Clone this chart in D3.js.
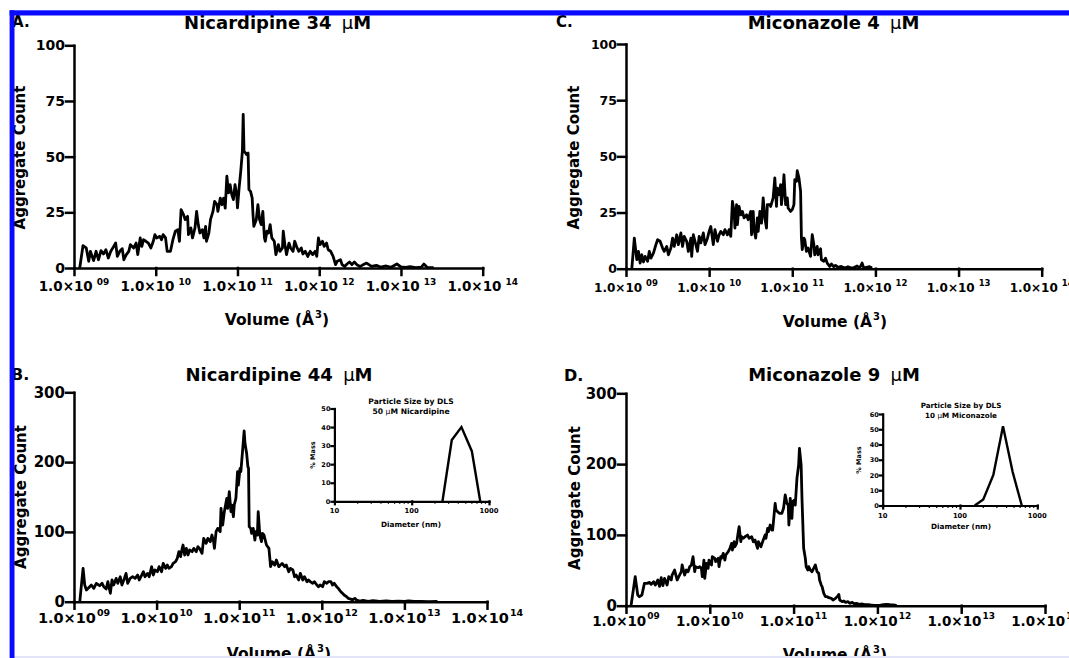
<!DOCTYPE html>
<html>
<head>
<meta charset="utf-8">
<script src="https://cdn.jsdelivr.net/npm/d3@7"></script>
<style>
	html, body { margin: 0; padding: 0; background: #fff; }
	svg { display: block; }
	text { font-family: "DejaVu Sans", "Liberation Sans", Arial, sans-serif; font-weight: bold; fill: #000; }
</style>
</head>
<body>
<svg id="chart" width="1069" height="658"></svg>
<script>

// ---- data (log10 of volume in A^3, aggregate count) ----

const decadeExps = [9, 10, 11, 12, 13, 14];
const yTicksTop = [0, 25, 50, 75, 100];
const yTicksBottom = [0, 100, 200, 300];

// A. Nicardipine 34 uM
const nic34Log = [
	9.07,9.11,9.15,9.18,9.20,9.24,9.27,9.30,9.33,9.36,
	9.39,9.42,9.45,9.48,9.51,9.53,9.56,9.59,9.61,9.64,
	9.67,9.69,9.73,9.76,9.78,9.81,9.83,9.85,9.88,9.91,
	9.94,9.97,9.99,10.01,10.05,10.07,10.09,10.12,10.14,10.18,
	10.21,10.24,10.27,10.29,10.31,10.34,10.36,10.39,10.40,10.43,
	10.45,10.48,10.50,10.52,10.54,10.57,10.59,10.61,10.62,10.65,
	10.67,10.70,10.72,10.75,10.76,10.79,10.81,10.83,10.85,10.87,
	10.89,10.91,10.93,10.95,10.97,10.99,11.00,11.02,11.04,11.06,
	11.07,11.08,11.10,11.11,11.13,11.14,11.16,11.18,11.19,11.20,
	11.23,11.25,11.27,11.29,11.31,11.33,11.34,11.36,11.38,11.40,
	11.42,11.45,11.47,11.50,11.52,11.55,11.56,11.58,11.60,11.63,
	11.65,11.68,11.70,11.73,11.75,11.78,11.80,11.83,11.86,11.89,
	11.92,11.95,11.97,11.99,12.01,12.04,12.06,12.09,12.11,12.14,
	12.17,12.20,12.22,12.26,12.28,12.31,12.34,12.37,12.40,12.43,
	12.46,12.50,12.53,12.58,12.64,12.70,12.75,12.82,12.88,12.95,
	13.00,13.06,13.11,13.18,13.25,13.28,13.32,13.40
];
const nic34Count = [
	0,10,9,3,7.5,3.3,7.5,3.7,7.8,6.3,
	8.2,4.5,7.5,9.3,11.2,5.2,7.5,8.7,3.7,6,
	7.5,10.5,9,11.2,6,13.5,9.7,12.7,12,11.2,
	9,12,15,13.5,14.2,12.7,15,13.5,7.5,7.5,
	12.7,16.5,17.2,12,26.2,24,21.7,23.2,15,18,
	13.5,18,25.4,19.5,15.7,17.2,13.5,18.7,12,15.7,
	21.7,25.4,29.9,28.4,25.4,31.4,28.4,31.4,26.9,41.2,
	33.7,37.4,33,30.7,37.4,33,27,36,43.4,52.4,
	69,52.4,51.6,51,51.6,35.2,34.4,31.4,24,18.7,
	21.7,28.4,21.7,19.5,25.4,13.5,12,16.5,15.7,19.5,
	13.5,12,6,10.5,7.5,9,16.5,10.5,6,11.2,
	9,7.5,12,9,7.5,9,6.3,7.5,5.2,7.5,
	6,7.5,5.2,13.5,10.5,12,9.7,11.2,8.2,7.5,
	5.2,1.5,3,3.7,1.5,0.7,1.8,2.7,1.5,2.7,
	1.5,0.7,1.3,2.2,0.7,1.2,0.4,0.9,0.3,1.8,
	0.5,0.3,0.6,0.2,0.4,1.8,0.3,0.2
];

// C. Miconazole 4 uM
const mic4Log = [
	9.07,9.10,9.13,9.15,9.17,9.19,9.21,9.23,9.26,9.28,
	9.30,9.33,9.36,9.38,9.41,9.44,9.46,9.49,9.51,9.54,
	9.56,9.58,9.61,9.63,9.66,9.68,9.70,9.73,9.75,9.78,
	9.79,9.81,9.84,9.86,9.88,9.90,9.93,9.95,9.98,10.00,
	10.02,10.05,10.07,10.10,10.12,10.14,10.17,10.19,10.22,10.24,
	10.26,10.28,10.30,10.31,10.33,10.34,10.36,10.38,10.40,10.42,
	10.45,10.47,10.50,10.51,10.53,10.54,10.56,10.58,10.59,10.61,
	10.63,10.65,10.67,10.69,10.70,10.73,10.74,10.77,10.79,10.81,
	10.82,10.84,10.86,10.87,10.89,10.90,10.92,10.94,10.95,10.98,
	11.00,11.02,11.03,11.05,11.06,11.08,11.10,11.11,11.12,11.14,
	11.15,11.17,11.19,11.22,11.24,11.26,11.27,11.30,11.31,11.34,
	11.35,11.38,11.40,11.42,11.45,11.47,11.50,11.52,11.55,11.59,
	11.63,11.67,11.71,11.75,11.78,11.81,11.84,11.86,11.89,11.93,
	11.96
];
const mic4Count = [
	0,13.6,4,7.7,2.5,6.2,3,5.5,3.3,7.7,
	4.7,6.9,10.7,12.9,12.2,9.2,7.7,9.9,6.2,9.2,
	13.6,9.9,15.1,10.7,15.9,9.9,14.4,12.2,7.7,13.6,
	5.5,15.1,10.7,7.7,14.4,11.5,15.9,10.7,13.6,16.6,
	18.8,10.7,17.4,12.2,15.1,16.6,15.1,17.4,15.1,17.4,
	14.4,30,25.5,18.1,28.5,19.6,27.7,24,25.5,22.6,
	24,21.8,25.5,15.1,25.5,17.4,13.6,22.6,16.6,25.5,
	20.3,31.5,22.6,18.1,28.5,28.5,27.7,31.5,40.4,27.7,
	35.9,32.9,37.4,28.5,35.9,41.8,28.5,31.5,27,25.5,
	26.3,28.5,39.6,38.9,43.6,40.4,34.4,13.6,8.5,13.6,
	12.9,7.7,9.2,5.5,15.1,10.7,6.2,9.9,6.2,8.9,
	4,3.3,4.7,2.5,1,2.1,0.9,1.5,0.6,1,
	0.3,0.9,0.3,0.6,1.2,0.3,2.5,0.3,0.6,0.9,
	0.3
];

// B. Nicardipine 44 uM
const nic44Log = [
	9.07,9.11,9.13,9.15,9.19,9.21,9.24,9.27,9.31,9.34,
	9.36,9.39,9.41,9.44,9.46,9.48,9.51,9.53,9.56,9.58,
	9.61,9.63,9.65,9.68,9.71,9.74,9.77,9.79,9.82,9.84,
	9.86,9.89,9.91,9.94,9.96,9.98,10.01,10.03,10.06,10.08,
	10.11,10.13,10.15,10.18,10.20,10.23,10.25,10.27,10.29,10.31,
	10.32,10.34,10.36,10.38,10.40,10.43,10.45,10.48,10.50,10.52,
	10.55,10.57,10.60,10.62,10.65,10.67,10.69,10.70,10.72,10.74,
	10.77,10.78,10.80,10.82,10.85,10.86,10.88,10.90,10.91,10.93,
	10.94,10.96,10.98,10.99,11.01,11.02,11.04,11.06,11.07,11.09,
	11.105,11.113,11.121,11.14,11.15,11.17,11.19,11.20,11.22,11.23,
	11.25,11.27,11.28,11.30,11.32,11.33,11.36,11.38,11.40,11.43,
	11.45,11.48,11.50,11.52,11.55,11.57,11.60,11.62,11.65,11.67,
	11.69,11.72,11.74,11.77,11.79,11.82,11.84,11.86,11.89,11.91,
	11.94,11.96,11.98,12.01,12.03,12.06,12.08,12.11,12.13,12.15,
	12.18,12.20,12.23,12.25,12.27,12.30,12.32,12.35,12.37,12.40,
	12.42,12.46,12.50,12.56,12.62,12.70,12.78,12.85,12.93,13.00,
	13.05,13.12,13.20,13.30,13.40
];
const nic44Count = [
	0,47.8,23.9,16.7,21.5,23.9,19.1,26.3,22.9,26.3,
	21.5,18.2,28.7,12,31.1,23.9,33.4,26.3,35.8,23.9,
	33.4,40.6,26.3,33.4,35.8,33.4,38.2,31.1,38.2,43,
	35.8,40.6,35.8,50.2,38.2,45.4,43,50.2,43,54.9,
	47.8,52.5,47.8,50.2,54.9,57.3,62.1,71.7,64.5,76.4,
	81.2,66.9,76.4,66.9,74,71.7,76.4,71.7,78.8,76.4,
	69.3,90.8,83.6,90.8,86,95.5,86,76.4,100.3,105.1,
	100.3,133.8,109.9,129,148.1,133.8,157.6,129,138.5,121.8,
	138.5,148.1,186.3,167.2,191.1,186.3,214.9,244.6,227,212.6,
	193.5,191.1,107.5,105.1,98,105.1,88.4,100.3,95.5,128.9,
	95.5,86,98,95.5,86,81.2,76.4,50.2,57.3,52.5,
	59.7,50.2,52.5,54.9,50.2,52.5,43,47.8,45.4,35.8,
	38.2,31.1,40.6,31.1,35.8,28.7,31.1,28.7,26.3,28.7,
	23.9,21.5,23.9,21.5,28.7,26.3,28.7,28.7,23.9,26.3,
	21.5,19.1,14.3,12,9.6,7.2,4.8,3.8,2.4,4.8,
	2.4,1,2,0.5,1.5,0.5,1,0.3,0.8,0.3,
	1.2,0.3,0.5,0.2,0.5
];

// D. Miconazole 9 uM
const mic9Log = [
	9.06,9.11,9.14,9.16,9.19,9.22,9.25,9.28,9.30,9.33,
	9.35,9.38,9.40,9.42,9.44,9.46,9.49,9.51,9.54,9.55,
	9.58,9.59,9.61,9.63,9.66,9.67,9.69,9.70,9.72,9.74,
	9.76,9.78,9.80,9.82,9.83,9.86,9.88,9.90,9.91,9.93,
	9.94,9.96,9.98,9.99,10.02,10.03,10.06,10.07,10.10,10.11,
	10.13,10.14,10.16,10.18,10.19,10.22,10.24,10.26,10.27,10.29,
	10.30,10.32,10.34,10.35,10.37,10.38,10.40,10.42,10.45,10.47,
	10.50,10.52,10.54,10.57,10.58,10.61,10.63,10.66,10.67,10.69,
	10.70,10.72,10.74,10.75,10.78,10.79,10.81,10.83,10.86,10.88,
	10.90,10.92,10.936,10.944,10.96,10.98,10.99,11.01,11.02,11.04,
	11.06,11.07,11.09,11.10,11.12,11.14,11.15,11.17,11.18,11.20,
	11.22,11.25,11.26,11.28,11.30,11.31,11.33,11.34,11.36,11.38,
	11.40,11.42,11.45,11.47,11.50,11.52,11.54,11.55,11.58,11.60,
	11.62,11.65,11.67,11.70,11.72,11.75,11.78,11.82,11.85,11.89,
	11.93,11.97,12.03,12.07,12.11,12.15,12.21,12.23
];
const mic9Count = [
	0,41,15.1,12.7,15.1,31.6,31.6,33,30.1,33.9,
	29.2,36.3,27.3,39.6,28.3,38.6,29.2,41,36.3,43.3,
	50.4,45.7,36.3,41,48,57.5,48,43.3,50.4,48,
	55.1,57.5,69.2,48,55.1,53.7,55.1,52.8,41,64.5,
	38.6,59.8,52.8,64.5,57.5,69.2,66.9,62.2,66.9,55.1,
	69.2,66.9,73.9,64.5,71.6,76.3,81,88,78.6,90.4,
	83.3,88,104.6,111.6,90.4,97.4,95.1,97.4,99.8,95.1,
	97.4,90.4,92.7,81,90.4,83.3,90.4,99.8,95.1,109.2,
	104.6,114,106.9,106.9,144.6,135.2,132.8,130.5,130.5,137.6,
	156.4,144.6,142.2,114,151.7,123.4,147,149.3,142.2,179.9,
	198.7,222.3,198.7,151.7,81,66.9,55.1,50.4,55.1,50.4,
	48,55.1,57.5,48,45.7,36.3,29.2,26.9,17.4,12.7,
	12.7,11.3,10.4,8,10.4,12.7,16,8,5.7,6.6,
	4.7,5.7,3.3,4.7,2.8,3.3,1.9,2.4,1.4,1.4,
	0.9,0.5,0.5,1.4,1.9,1.4,0.9,0
];

// DLS insets (diameter nm, % mass)
const dlsNicDiam = [250, 330, 440, 600, 770];
const dlsNicMass = [0, 33, 40, 27, 0];
const dlsMicDiam = [155, 200, 270, 360, 480, 630];
const dlsMicMass = [0, 4, 20, 52, 22, 0];
const dlsNicTicks = [0, 10, 20, 30, 40, 50];
const dlsMicTicks = [0, 10, 20, 30, 40, 50, 60];
const dlsDecades = [10, 100, 1000];
const dlsMinor = [20, 30, 40, 50, 60, 70, 80, 90, 200, 300, 400, 500, 600, 700, 800, 900];

// ---- drawing ----

const svg = d3.select('#chart');

function styleAxis(a, w) {
	a.attr('font-family', null).attr('font-size', null);
	a.selectAll('path, line').attr('stroke', '#000').attr('stroke-width', w).attr('stroke-linecap', 'square');
}

function drawPanel(p) {

	const g = svg.append('g');
	const x = d3.scaleLog().domain([1e9, 1e14]).range([p.x0, p.x1]);
	const y = d3.scaleLinear().domain([0, p.yMax]).range([p.y0, p.yTop]);

	const ya = g.append('g').attr('transform', 'translate(' + p.x0 + ',0)')
		.call(d3.axisLeft(y).tickValues(p.yTicks).tickSize(8).tickSizeOuter(0).tickPadding(1));
	styleAxis(ya, 2.5);
	ya.selectAll('text').style('font-size', p.yTickFont + 'px');

	const xa = g.append('g').attr('transform', 'translate(0,' + p.y0 + ')')
		.call(d3.axisBottom(x).tickValues(decadeExps.map(e => Math.pow(10, e))).tickSize(7).tickSizeOuter(0).tickFormat(''));
	styleAxis(xa, 2.5);

	// 1.0x10^NN labels
	decadeExps.forEach(e => {
		const t = g.append('text')
			.attr('x', x(Math.pow(10, e)))
			.attr('y', p.xTickY)
			.attr('text-anchor', 'middle')
			.style('font-size', p.xTickFont + 'px');
		t.append('tspan').text('1.0\u00D710');
		t.append('tspan').attr('dx', p.supDx).attr('dy', -p.supRise)
			.style('font-size', p.supFont + 'px')
			.text(e < 10 ? '0' + e : String(e));
	});

	// the histogram trace
	g.append('path')
		.datum(d3.zip(p.log, p.count))
		.attr('d', d3.line().x(d => x(Math.pow(10, d[0]))).y(d => y(d[1])))
		.attr('fill', 'none')
		.attr('stroke', '#000')
		.attr('stroke-width', 2.8)
		.attr('stroke-linejoin', 'round');

	// title
	const tt = g.append('text').attr('x', p.titleX).attr('y', p.titleY).attr('text-anchor', 'middle')
		.style('font-size', '18px');
	tt.append('tspan').text(p.title + '\u00A0');
	tt.append('tspan').attr('dx', 4).style('font-weight', 'normal').text('\u03BC');
	tt.append('tspan').text('M');

	g.append('text').attr('x', p.letterX).attr('y', p.letterY)
		.style('font-size', p.letterFont + 'px').text(p.letter);

	g.append('text')
		.attr('transform', 'translate(' + p.ylabX + ',' + p.ylabY + ') rotate(-90)')
		.attr('text-anchor', 'middle')
		.style('font-size', '15px')
		.text('Aggregate Count');

	const xl = g.append('text').attr('x', p.xlabX).attr('y', p.xlabY).attr('text-anchor', 'middle')
		.style('font-size', '15.5px');
	xl.append('tspan').text('Volume (\u00C5');
	xl.append('tspan').attr('dx', 1).attr('dy', -7).style('font-size', '10px').text('3');
	xl.append('tspan').attr('dy', 7).text(')');
}

function drawInset(q) {

	const g = svg.append('g');
	const x = d3.scaleLog().domain([10, 1000]).range([q.x0, q.x1]);
	const y = d3.scaleLinear().domain([0, q.yMax]).range([q.y0, q.yTop]);

	const ya = g.append('g').attr('transform', 'translate(' + q.x0 + ',0)')
		.call(d3.axisLeft(y).tickValues(q.yTicks).tickSize(3).tickSizeOuter(0).tickPadding(1));
	styleAxis(ya, 2.2);
	ya.selectAll('text').style('font-size', '6.5px');

	const xa = g.append('g').attr('transform', 'translate(0,' + q.y0 + ')')
		.call(d3.axisBottom(x).tickValues(dlsDecades).tickSize(3).tickSizeOuter(0).tickFormat(''));
	styleAxis(xa, 2.2);

	// minor log ticks
	g.selectAll('line.minor').data(dlsMinor).enter().append('line')
		.attr('x1', d => x(d)).attr('x2', d => x(d))
		.attr('y1', q.y0).attr('y2', q.y0 + 2.5)
		.attr('stroke', '#000').attr('stroke-width', 1.2);

	g.selectAll('text.xt').data(dlsDecades).enter().append('text')
		.attr('x', d => x(d)).attr('y', q.tickLabY).attr('text-anchor', 'middle')
		.style('font-size', '6.8px').text(d => d);

	g.append('path')
		.datum(d3.zip(q.diam, q.mass))
		.attr('d', d3.line().x(d => x(d[0])).y(d => y(d[1])))
		.attr('fill', 'none').attr('stroke', '#000').attr('stroke-width', 2.4).attr('stroke-linejoin', 'miter');

	g.append('text').attr('x', q.titleX).attr('y', q.t1Y).attr('text-anchor', 'middle')
		.style('font-size', q.titleFont + 'px').text('Particle Size by DLS');
	const t2 = g.append('text').attr('x', q.titleX).attr('y', q.t2Y).attr('text-anchor', 'middle')
		.style('font-size', q.titleFont + 'px');
	t2.append('tspan').text(q.conc + ' ');
	t2.append('tspan').style('font-weight', 'normal').text('\u03BC');
	t2.append('tspan').text('M ' + q.drug);

	g.append('text')
		.attr('transform', 'translate(' + q.massX + ',' + q.massY + ') rotate(-90)')
		.attr('text-anchor', 'middle').style('font-size', '6.5px').text('% Mass');

	g.append('text').attr('x', q.titleX).attr('y', q.diamY).attr('text-anchor', 'middle')
		.style('font-size', '7.3px').text('Diameter (nm)');
}

drawPanel({
	log: nic34Log, count: nic34Count, yTicks: yTicksTop, yMax: 100,
	x0: 74, x1: 482.7, y0: 268, yTop: 45.3,
	yTickFont: 14, xTickFont: 13.5, xTickY: 291,
	supFont: 9, supDx: 4, supRise: 6,
	title: 'Nicardipine 34', titleX: 277.6, titleY: 29,
	letter: 'A.', letterX: 12, letterY: 27, letterFont: 15,
	ylabX: 25, ylabY: 157.5, xlabX: 277, xlabY: 325
});

drawPanel({
	log: mic4Log, count: mic4Count, yTicks: yTicksTop, yMax: 100,
	x0: 626, x1: 1041.7, y0: 268.7, yTop: 44,
	yTickFont: 12.5, xTickFont: 12, xTickY: 291.5,
	supFont: 8.5, supDx: 4, supRise: 6,
	title: 'Miconazole 4', titleX: 833.5, titleY: 29,
	letter: 'C.', letterX: 556, letterY: 27, letterFont: 15,
	ylabX: 579, ylabY: 157.5, xlabX: 835, xlabY: 327
});

drawPanel({
	log: nic44Log, count: nic44Count, yTicks: yTicksBottom, yMax: 300,
	x0: 74, x1: 487, y0: 601.7, yTop: 392.3,
	yTickFont: 15, xTickFont: 14.5, xTickY: 623,
	supFont: 9.5, supDx: 1, supRise: 7,
	title: 'Nicardipine 44', titleX: 279, titleY: 381,
	letter: 'B.', letterX: 11, letterY: 380, letterFont: 16,
	ylabX: 26, ylabY: 497, xlabX: 279, xlabY: 659
});

drawPanel({
	log: mic9Log, count: mic9Count, yTicks: yTicksBottom, yMax: 300,
	x0: 626, x1: 1045, y0: 605.7, yTop: 393.3,
	yTickFont: 15, xTickFont: 13.5, xTickY: 626,
	supFont: 9, supDx: 1, supRise: 7,
	title: 'Miconazole 9', titleX: 834, titleY: 381,
	letter: 'D.', letterX: 564, letterY: 381, letterFont: 16,
	ylabX: 580, ylabY: 498, xlabX: 835, xlabY: 660
});

drawInset({
	diam: dlsNicDiam, mass: dlsNicMass, yTicks: dlsNicTicks, yMax: 50,
	x0: 334.4, x1: 489, y0: 501.3, yTop: 408.5,
	conc: '50', drug: 'Nicardipine', titleFont: 7.6,
	titleX: 411, t1Y: 403.5, t2Y: 413.5, massX: 315, massY: 455, diamY: 526.5, tickLabY: 513
});

drawInset({
	diam: dlsMicDiam, mass: dlsMicMass, yTicks: dlsMicTicks, yMax: 60,
	x0: 882.7, x1: 1037.3, y0: 505.5, yTop: 414,
	conc: '10', drug: 'Miconazole', titleFont: 7.2,
	titleX: 961, t1Y: 407.5, t2Y: 417.5, massX: 861, massY: 460, diamY: 528.5, tickLabY: 518
});

// blue frame on the top and left edge, faint line at the bottom
svg.append('rect').attr('x', 14).attr('y', 656).attr('width', 1055).attr('height', 2).attr('fill', '#e4e4f8');
svg.append('rect').attr('x', 9.6).attr('y', 10.3).attr('width', 1060).attr('height', 5.2).attr('fill', '#0a0aff');
svg.append('rect').attr('x', 9.6).attr('y', 10.3).attr('width', 4.9).attr('height', 648).attr('fill', '#0a0aff');

</script>
</body>
</html>
